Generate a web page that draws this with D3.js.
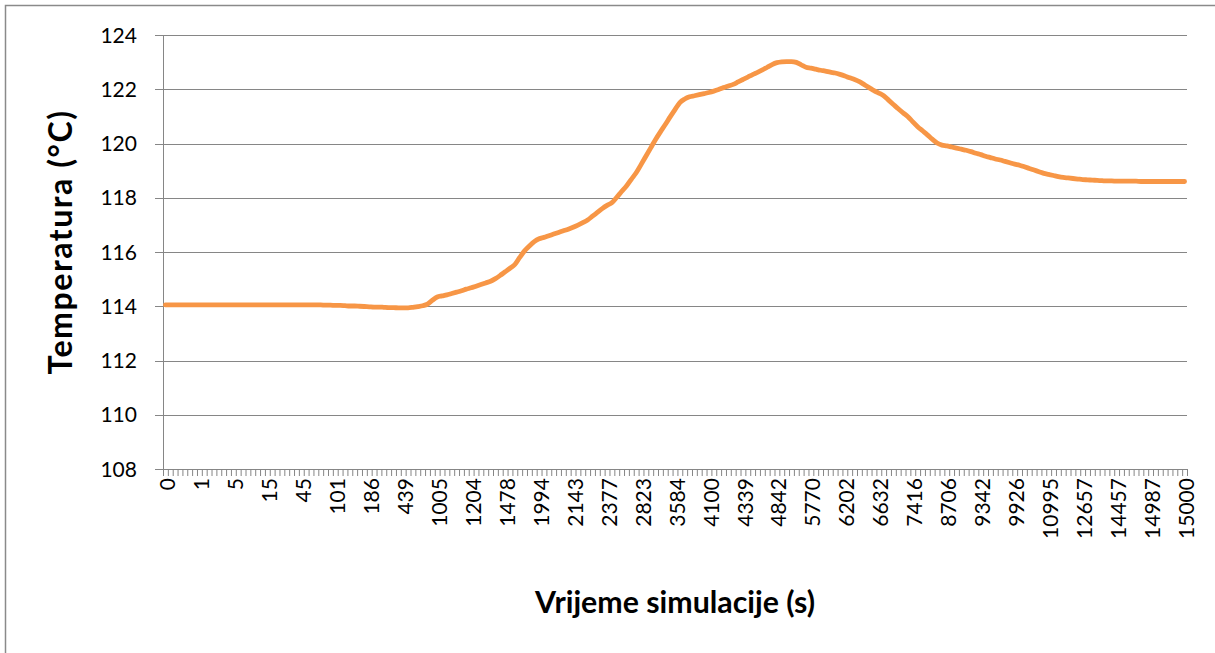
<!DOCTYPE html>
<html>
<head>
<meta charset="utf-8">
<script src="https://cdn.jsdelivr.net/npm/d3@7"></script>
<style>
  html, body { margin: 0; padding: 0; background: #ffffff; }
  svg { display: block; }
  text { font-family: Lato, "Open Sans", "Liberation Sans", sans-serif; fill: #000; }
</style>
</head>
<body>
<svg id="chart" width="1215" height="653"></svg>
<script>
// Temperature (°C) at each recorded simulation step
const temperature = [
  114.05,114.05,114.05,114.05,114.05,114.05,114.05,114.05,114.05,114.05,
  114.05,114.05,114.05,114.05,114.05,114.05,114.05,114.05,114.05,114.05,
  114.05,114.05,114.05,114.05,114.05,114.05,114.05,114.05,114.05,114.05,
  114.05,114.05,114.05,114.04,114.04,114.03,114.03,114.02,114.01,114.01,
  114.00,113.99,113.98,113.97,113.97,113.96,113.95,113.95,113.94,113.94,
  113.94,113.96,113.99,114.02,114.08,114.22,114.34,114.38,114.42,114.47,
  114.52,114.57,114.63,114.68,114.74,114.80,114.86,114.92,115.02,115.14,
  115.27,115.40,115.54,115.80,116.04,116.22,116.38,116.49,116.54,116.60,
  116.66,116.72,116.78,116.84,116.91,116.99,117.08,117.18,117.32,117.46,
  117.60,117.72,117.82,118.02,118.23,118.43,118.68,118.92,119.22,119.53,
  119.84,120.15,120.43,120.70,120.98,121.25,121.51,121.64,121.72,121.76,
  121.80,121.84,121.88,121.93,121.99,122.06,122.12,122.18,122.27,122.36,
  122.45,122.54,122.62,122.71,122.81,122.91,122.98,123.01,123.02,123.02,
  122.99,122.90,122.81,122.78,122.74,122.70,122.67,122.63,122.60,122.55,
  122.49,122.42,122.36,122.28,122.17,122.06,121.95,121.86,121.76,121.60,
  121.44,121.28,121.13,120.99,120.80,120.62,120.47,120.32,120.16,120.02,
  119.94,119.91,119.87,119.83,119.79,119.75,119.70,119.64,119.59,119.53,
  119.48,119.43,119.39,119.34,119.29,119.24,119.20,119.14,119.08,119.02,
  118.96,118.90,118.86,118.82,118.78,118.75,118.73,118.71,118.69,118.67,
  118.66,118.65,118.64,118.63,118.62,118.62,118.61,118.61,118.61,118.61,
  118.61,118.60,118.60,118.60,118.60,118.60,118.60,118.60,118.60,118.60,
  118.60
];

// Simulation time (s) shown under every 7th step
const timeLabels = [
  "0","1","5","15","45","101","186","439","1005","1204","1478","1994",
  "2143","2377","2823","3584","4100","4339","4842","5770","6202","6632",
  "7416","8706","9342","9926","10995","12657","14457","14987","15000"
];
const labelEvery = 7;

const yTicks = [108, 110, 112, 114, 116, 118, 120, 122, 124];

const yTitle = "Temperatura (°C)";
const xTitle = "Vrijeme simulacije (s)";

// Layout
const W = 1215, H = 653;
const plot = { left: 163, right: 1187, top: 35, bottom: 469 };
const gridColor = "#868686";
const lineColor = "#F79646";

const svg = d3.select("#chart");

// Font size that makes a string span the given width
function fitSize(str, width, weight) {
  const probe = svg.append("text")
    .style("font-size", "100px")
    .style("font-weight", weight)
    .text(str);
  const len = probe.node().getComputedTextLength();
  probe.remove();
  return 100 * width / len;
}
const tickSize = fitSize("15000", 61, "normal");
const xTitleSize = fitSize(xTitle, 280, "bold");
const yTitleSize = xTitleSize * 1.06;

// Chart frame
svg.append("rect")
  .attr("x", 5.5).attr("y", 5.5)
  .attr("width", W + 10).attr("height", H + 10)
  .attr("fill", "#fff")
  .attr("stroke", "#8a8a8a")
  .attr("stroke-width", 1.5);

const steps = d3.range(temperature.length);

const x = d3.scaleBand()
  .domain(steps)
  .range([plot.left, plot.right])
  .paddingInner(0).paddingOuter(0);

const y = d3.scaleLinear()
  .domain([d3.min(yTicks), d3.max(yTicks)])
  .range([plot.bottom, plot.top]);

const cx = i => x(i) + x.bandwidth() / 2;

// Horizontal gridlines
svg.append("g")
  .selectAll("line")
  .data(yTicks.filter(v => v !== d3.min(yTicks)))
  .join("line")
  .attr("x1", plot.left).attr("x2", plot.right)
  .attr("y1", d => Math.round(y(d)) + 0.5)
  .attr("y2", d => Math.round(y(d)) + 0.5)
  .attr("stroke", gridColor).attr("stroke-width", 1);

// Y axis
const yAxis = svg.append("g").attr("class", "y-axis");
yAxis.append("line")
  .attr("x1", plot.left + 0.5).attr("x2", plot.left + 0.5)
  .attr("y1", plot.top).attr("y2", plot.bottom + 0.5)
  .attr("stroke", gridColor).attr("stroke-width", 1);
yAxis.selectAll("line.tick")
  .data(yTicks)
  .join("line")
  .attr("class", "tick")
  .attr("x1", plot.left - 8).attr("x2", plot.left)
  .attr("y1", d => Math.round(y(d)) + 0.5)
  .attr("y2", d => Math.round(y(d)) + 0.5)
  .attr("stroke", gridColor).attr("stroke-width", 1);
yAxis.selectAll("text")
  .data(yTicks)
  .join("text")
  .attr("x", 137)
  .attr("y", d => y(d))
  .attr("dy", "0.36em")
  .attr("text-anchor", "end")
  .style("font-size", tickSize + "px")
  .text(d => d);

// X axis
const xAxis = svg.append("g").attr("class", "x-axis");
xAxis.append("line")
  .attr("x1", plot.left).attr("x2", plot.right)
  .attr("y1", plot.bottom + 0.5).attr("y2", plot.bottom + 0.5)
  .attr("stroke", gridColor).attr("stroke-width", 1);
xAxis.selectAll("line.tick")
  .data(d3.range(steps.length + 1))
  .join("line")
  .attr("class", "tick")
  .attr("x1", i => (i < steps.length ? x(i) : plot.right) + 0.5)
  .attr("x2", i => (i < steps.length ? x(i) : plot.right) + 0.5)
  .attr("y1", plot.bottom).attr("y2", plot.bottom + 7)
  .attr("stroke", gridColor).attr("stroke-width", 1);
xAxis.selectAll("text")
  .data(timeLabels)
  .join("text")
  .attr("transform", (d, k) => `translate(${cx(k * labelEvery) + 2},${plot.bottom + 9}) rotate(-90)`)
  .attr("dy", "0.36em")
  .attr("text-anchor", "end")
  .style("font-size", tickSize + "px")
  .text(d => d);

// Temperature line
const line = d3.line()
  .x((d, i) => cx(i))
  .y(d => y(d))
  .curve(d3.curveMonotoneX);

svg.append("path")
  .datum(temperature)
  .attr("d", line)
  .attr("fill", "none")
  .attr("stroke", lineColor)
  .attr("stroke-width", 4.8)
  .attr("stroke-linejoin", "round")
  .attr("stroke-linecap", "round");

// Axis titles
svg.append("text")
  .attr("transform", `translate(72,242) rotate(-90)`)
  .attr("text-anchor", "middle")
  .style("font-size", yTitleSize + "px")
  .style("font-weight", "bold")
  .style("letter-spacing", "1.5px")
  .text(yTitle);

svg.append("text")
  .attr("x", (plot.left + plot.right) / 2)
  .attr("y", 613)
  .attr("text-anchor", "middle")
  .style("font-size", xTitleSize + "px")
  .style("font-weight", "bold")
  .text(xTitle);
</script>
</body>
</html>
